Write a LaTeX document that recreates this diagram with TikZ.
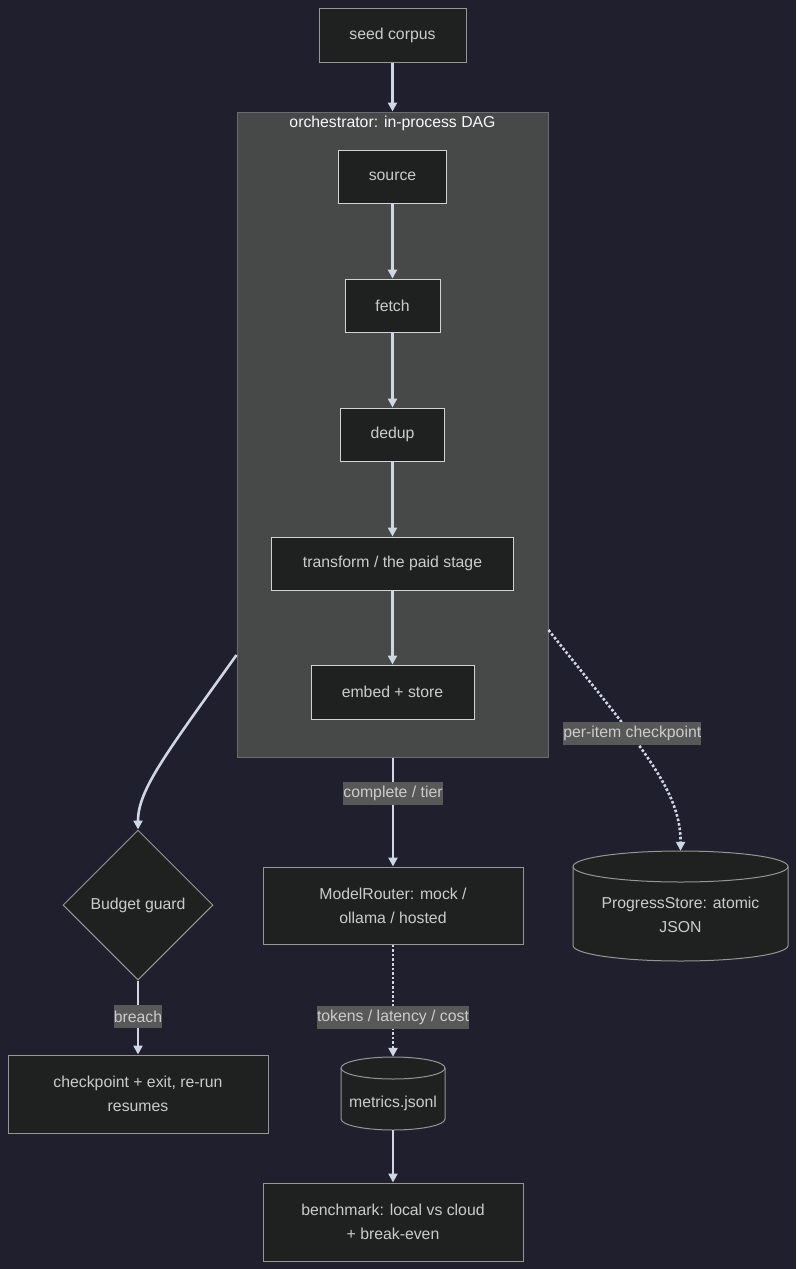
\documentclass[tikz,border=0pt]{standalone}
\usepackage{fontspec}
\setmainfont{Liberation Sans}
\usetikzlibrary{shapes.geometric,arrows.meta}
\definecolor{bg}{RGB}{31,31,46}
\definecolor{nodefill}{RGB}{31,32,32}
\definecolor{outerstroke}{RGB}{150,150,150}
\definecolor{innerstroke}{RGB}{210,210,210}
\definecolor{clusterfill}{RGB}{71,73,73}
\definecolor{clusterstroke}{RGB}{105,107,112}
\definecolor{txt}{RGB}{204,204,204}
\definecolor{titletxt}{RGB}{245,250,250}
\definecolor{lblfill}{RGB}{88,88,88}
\definecolor{linec}{RGB}{208,214,228}
\newcommand{\drawcyl}[5]{%
  \path[fill=nodefill, draw=outerstroke, line width=1pt]
    (#1-#4,#2+#5) -- (#1-#4,#3-#5)
    arc[start angle=180,end angle=360,x radius=#4pt,y radius=#5pt]
    -- (#1+#4,#2+#5)
    arc[start angle=0,end angle=180,x radius=#4pt,y radius=#5pt] -- cycle;
  \draw[outerstroke, line width=1pt] (#1-#4,#2+#5)
    arc[start angle=180,end angle=360,x radius=#4pt,y radius=#5pt];
}
\tikzset{
  base/.style={font=\fontsize{15.8}{24}\selectfont, text=txt, align=center, inner sep=0pt},
  outerbox/.style={base, rectangle, draw=outerstroke, fill=nodefill, line width=1pt},
  innerbox/.style={base, rectangle, draw=innerstroke, fill=nodefill, line width=1pt},
  edge/.style={draw=linec, line width=2.6pt, -{Triangle[width=9pt,length=9pt]}},
  dotedge/.style={edge, dash pattern=on 2.6pt off 2pt},
  lbl/.style={base, fill=lblfill, minimum height=23pt, inner xsep=0pt},
  ghost/.style={rectangle, inner sep=0pt}
}
\begin{document}
\begin{tikzpicture}[x=1pt,y=-1pt]
\fill[bg] (0,0) rectangle (796,1269);
\useasboundingbox (0,0) rectangle (796,1269);

% cluster
\node[rectangle, draw=clusterstroke, fill=clusterfill, line width=1pt, minimum width=311pt, minimum height=645pt] (orch) at (392.5,434.5) {};
\node[base, text=titletxt] (orchtitle) at (392.5,123.5) {orchestrator: in-process DAG};

% nodes
\node[outerbox, minimum width=147pt, minimum height=54pt] (seed) at (392.5,35) {seed corpus};
\node[innerbox, minimum width=108pt, minimum height=53pt] (source) at (392.5,176.5) {source};
\node[innerbox, minimum width=95pt, minimum height=53pt] (fetch) at (392.5,305.5) {fetch};
\node[innerbox, minimum width=104pt, minimum height=53pt] (dedup) at (392.5,434.5) {dedup};
\node[innerbox, minimum width=242pt, minimum height=53pt] (transform) at (392.5,563.5) {transform / the paid stage};
\node[innerbox, minimum width=163pt, minimum height=54pt] (embed) at (392.5,692) {embed + store};

\node[base, diamond, draw=outerstroke, fill=nodefill, line width=1pt, minimum width=150pt, minimum height=150pt] (budget) at (138,905) {Budget guard};
\node[outerbox, minimum width=260pt, minimum height=77pt] (router) at (393,905.5) {ModelRouter: mock /\\ollama / hosted};
\node[outerbox, minimum width=260pt, minimum height=78pt] (checkpoint) at (138,1094) {checkpoint + exit, re-run\\resumes};
\node[outerbox, minimum width=260pt, minimum height=78pt] (bench) at (393,1222) {benchmark: local vs cloud\\+ break-even};

% cylinders
\drawcyl{680.5}{851}{961}{107.5}{15.5}
\node[ghost, minimum width=215pt, minimum height=110pt] (progress) at (680.5,906) {};
\node[base] (progresstext) at (680.5,915) {ProgressStore: atomic\\JSON};
\drawcyl{393}{1057}{1130}{52}{11}
\node[ghost, minimum width=104pt, minimum height=73pt] (metrics) at (393,1093.5) {};
\node[base] (metricstext) at (393,1103) {metrics.jsonl};

% edges
\draw[edge] (seed) -- (orch);
\draw[edge] (source) -- (fetch);
\draw[edge] (fetch) -- (dedup);
\draw[edge] (dedup) -- (transform);
\draw[edge] (transform) -- (embed);
\draw[edge] ([yshift=-220.5pt]orch.west) .. controls (165,755) and (138,790) .. (budget.north);
\draw[dotedge] ([yshift=-195.5pt]orch.east) .. controls (640,745) and (681,790) .. (progress.north)
  node[lbl, pos=0.37, xshift=2.5pt] (lblckpt) {per-item checkpoint};
\draw[edge] (orch.south -| router.north) -- (router.north)
  node[lbl, pos=0.327] (lblcomplete) {complete / tier};
\draw[edge] (budget.south) -- (checkpoint.north)
  node[lbl, pos=0.49] (lblbreach) {breach};
\draw[dotedge] (router.south) -- (metrics.north)
  node[lbl, pos=0.646] (lbltokens) {tokens / latency / cost};
\draw[edge] (metrics.south) -- (bench.north);
\end{tikzpicture}
\end{document}
